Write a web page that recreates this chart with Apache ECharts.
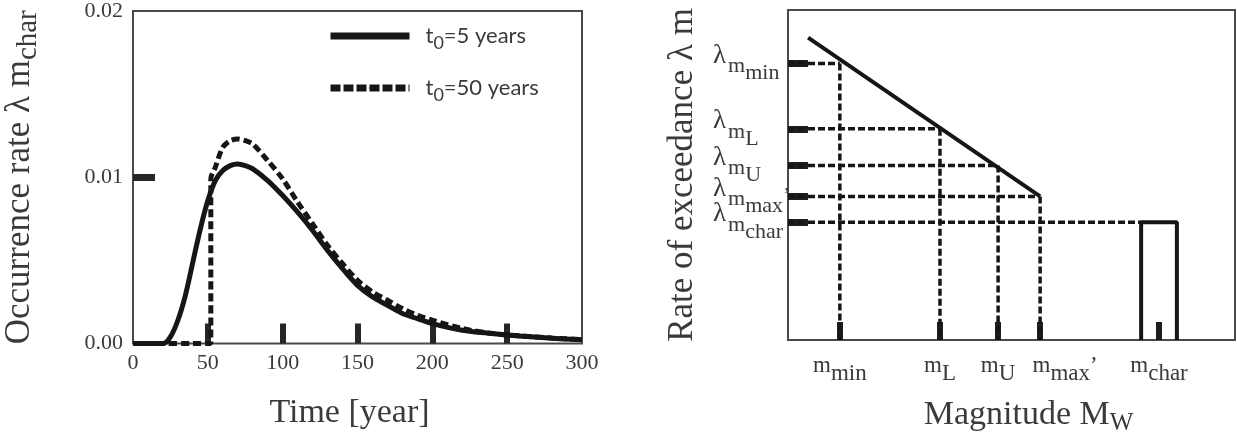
<!DOCTYPE html>
<html>
<head>
<meta charset="utf-8">
<script src="https://cdn.jsdelivr.net/npm/echarts@6/dist/echarts.min.js"></script>
<style>
  html, body { margin: 0; padding: 0; background: #fff; }
  #chart { width: 1237px; height: 441px; }
</style>
</head>
<body>
<div id="chart"></div>
<script>
// left panel: occurrence rate of the characteristic event vs time
const years = [0, 10, 20, 25, 30, 35, 40, 45, 50, 55, 60, 65, 70, 75, 80, 90, 100, 110, 120, 130, 140, 150, 160, 170, 180, 190, 200, 220, 240, 260, 280, 300];
const rateT5 = [0, 0, 0, 0.0004, 0.0014, 0.0029, 0.0049, 0.0069, 0.0086, 0.0098, 0.0104, 0.0107, 0.0108, 0.0107, 0.0105, 0.0098, 0.0089, 0.0079, 0.0068, 0.0056, 0.0045, 0.0035, 0.0028, 0.0023, 0.0018, 0.0015, 0.0012, 0.0008, 0.0006, 0.00043, 0.00032, 0.00022];
const yearsT50 = [0, 20, 40, 52, 52, 55, 60, 65, 70, 75, 80, 90, 100, 110, 120, 130, 140, 150, 160, 170, 180, 190, 200, 220, 240, 260, 280, 300];
const rateT50 = [0, 0, 0, 0, 0.0099, 0.0106, 0.0118, 0.0122, 0.0123, 0.0122, 0.0120, 0.0110, 0.0099, 0.0085, 0.0072, 0.0059, 0.0048, 0.0038, 0.0031, 0.0026, 0.0021, 0.0017, 0.0014, 0.0009, 0.0006, 0.00045, 0.00033, 0.00023];
const timeTicks = [50, 100, 150, 200, 250];
const rateTicks = [0, 0.01, 0.02];

// right panel: schematic exceedance rate vs magnitude (axis units 0..100)
const magNames = ['min', 'L', 'U', 'max', 'char'];
const magPos = [11.6, 34.0, 47.0, 56.4, 83.0];
const lambdaPos = [83.8, 64.0, 52.9, 43.5, 35.7];
const grLine = [[4.5, 91.6], [56.4, 43.5]];
const charBox = [79.0, 87.0];

const serif = 'Liberation Serif';
const ink = '#161616';
const gray = '#3a3a3a';

const chart = echarts.init(document.getElementById('chart'));

const guideStyle = { color: ink, width: 3.5, type: [7, 3], cap: 'butt' };

function guide(points) {
  return {
    type: 'line', xAxisIndex: 1, yAxisIndex: 1, symbol: 'none', silent: true,
    data: points, lineStyle: guideStyle, z: 2
  };
}

const guides = [];
for (let i = 0; i < 4; i++) {
  guides.push(guide([[0, lambdaPos[i]], [magPos[i], lambdaPos[i]]]));
  guides.push(guide([[magPos[i], lambdaPos[i]], [magPos[i], 0]]));
}
guides.push(guide([[0, lambdaPos[4]], [charBox[0], lambdaPos[4]]]));

const ascending = arr => arr.slice().sort((a, b) => a - b);

function nearest(arr, v) {
  let best = 0;
  arr.forEach((p, i) => { if (Math.abs(p - v) < Math.abs(arr[best] - v)) best = i; });
  return Math.abs(arr[best] - v) < 0.5 ? best : -1;
}

function magLabel(v) {
  const i = nearest(magPos, v);
  if (i < 0) return '';
  if (magNames[i] === 'max') return '{pad|}{m|m}{s|max}{m|’}';
  return '{m|m}{s|' + magNames[i] + '}';
}

function lambdaLabel(v) {
  const i = nearest(lambdaPos, v);
  if (i < 0) return '';
  const tail = magNames[i] === 'max' ? '{q|’}' : '';
  return '{l|λ}{m|m}{s|' + magNames[i] + '}' + tail;
}

// the λ labels sit close together, so they are split over two overlaid axes
// (otherwise the library drops one of the neighbouring labels)
function lambdaAxis(values, withName) {
  const axis = {
    gridIndex: 1, type: 'value', min: 0, max: 100, position: 'left', offset: 0,
    axisLine: { show: false }, splitLine: { show: false },
    axisTick: { inside: true, length: 20, customValues: ascending(values), lineStyle: { color: '#1e1e1e', width: 7 } },
    axisLabel: {
      customValues: ascending(values), formatter: lambdaLabel, margin: 75, align: 'left',
      showMinLabel: true, showMaxLabel: true, hideOverlap: false,
      rich: {
        l: { fontFamily: serif, fontSize: 27, color: gray, padding: [0, 0, 16, 0] },
        m: { fontFamily: serif, fontSize: 22, color: gray, padding: [6, 0, 0, 2] },
        s: { fontFamily: serif, fontSize: 22, color: gray, padding: [20, 0, 0, 0] },
        q: { fontFamily: serif, fontSize: 22, color: gray }
      }
    }
  };
  if (withName) {
    axis.name = 'Rate of exceedance λ m';
    axis.nameLocation = 'middle';
    axis.nameGap = 88;
    axis.nameTextStyle = { fontFamily: serif, fontSize: 35, color: gray };
  }
  return axis;
}

chart.setOption({
  animation: false,
  grid: [
    { left: 133, top: 9, width: 449, bottom: 97.5, show: true, borderColor: '#4a4a4a', borderWidth: 2 },
    { left: 788, top: 10, width: 447, bottom: 98, show: true, borderColor: '#4a4a4a', borderWidth: 2 }
  ],
  legend: {
    data: [
      { name: 't5', lineStyle: { width: 7 } },
      { name: 't50', lineStyle: { width: 7, type: [10, 3] } }
    ],
    orient: 'vertical',
    left: 327,
    top: 25,
    padding: 0,
    itemWidth: 79,
    itemHeight: 2,
    itemGap: 25,
    formatter: function (name) {
      return name === 't5' ? 't{s|0}=5 years' : 't{s|0}=50 years';
    },
    textStyle: {
      fontFamily: 'Lato', fontSize: 22, color: gray, padding: [0, 0, 0, 11],
      rich: { s: { fontFamily: 'Lato', fontSize: 18, color: gray, padding: [14, 0, 0, 0] } }
    }
  },
  xAxis: [
    {
      gridIndex: 0, type: 'value', min: 0, max: 300, interval: 50,
      axisLine: { show: false }, splitLine: { show: false },
      axisTick: { inside: true, length: 20, customValues: timeTicks, lineStyle: { color: '#262626', width: 6 } },
      axisLabel: { fontFamily: serif, fontSize: 22, color: gray, margin: 9, showMinLabel: true, showMaxLabel: true },
      name: 'Time [year]', nameLocation: 'middle', nameGap: 53,
      nameTextStyle: { fontFamily: serif, fontSize: 34, color: gray, padding: [0, 16, 0, 0] }
    },
    {
      gridIndex: 1, type: 'value', min: 0, max: 100,
      axisLine: { show: false }, splitLine: { show: false },
      axisTick: { inside: true, length: 18, customValues: ascending(magPos), lineStyle: { color: '#1e1e1e', width: 6 } },
      axisLabel: {
        customValues: ascending(magPos), formatter: magLabel, margin: 6,
        showMinLabel: true, showMaxLabel: true, hideOverlap: false,
        rich: {
          m: { fontFamily: serif, fontSize: 23, color: gray },
          s: { fontFamily: serif, fontSize: 23, color: gray, padding: [16, 0, 0, 0] },
          pad: { width: 50 }
        }
      },
      name: '{a|Magnitude M}{s|W}', nameLocation: 'middle', nameGap: 55,
      nameTextStyle: {
        padding: [0, 0, 0, 34],
        rich: {
          a: { fontFamily: serif, fontSize: 34, color: gray },
          s: { fontFamily: serif, fontSize: 25, color: gray, padding: [16, 0, 0, 0] }
        }
      }
    }
  ],
  yAxis: [
    {
      gridIndex: 0, type: 'value', min: 0, max: 0.02,
      axisLine: { show: false }, splitLine: { show: false },
      axisTick: { inside: true, length: 22, customValues: [0.01], lineStyle: { color: '#262626', width: 7 } },
      axisLabel: {
        customValues: rateTicks, formatter: v => v.toFixed(2),
        fontFamily: serif, fontSize: 22, color: gray, margin: 10,
        showMinLabel: true, showMaxLabel: true
      },
      name: '{a|Occurrence rate λ m}{s|char}', nameLocation: 'middle', nameGap: 90,
      nameTextStyle: {
        rich: {
          a: { fontFamily: serif, fontSize: 35, color: gray },
          s: { fontFamily: serif, fontSize: 29, color: gray, padding: [18, 0, 0, 0] }
        }
      }
    },
    lambdaAxis([lambdaPos[0], lambdaPos[2], lambdaPos[4]], true),
    lambdaAxis([lambdaPos[1], lambdaPos[3]], false)
  ],
  series: [
    {
      name: 't5', type: 'line', xAxisIndex: 0, yAxisIndex: 0,
      data: years.map((t, i) => [t, rateT5[i]]),
      smooth: 0.3, symbol: 'none',
      lineStyle: { color: ink, width: 5 }, itemStyle: { color: ink }, z: 3
    },
    {
      name: 't50', type: 'line', xAxisIndex: 0, yAxisIndex: 0,
      data: yearsT50.map((t, i) => [t, rateT50[i]]),
      smooth: 0.3, symbol: 'none',
      lineStyle: { color: ink, width: 5, type: [8, 4], cap: 'butt' }, itemStyle: { color: ink }, z: 4
    },
    {
      type: 'line', xAxisIndex: 1, yAxisIndex: 1, symbol: 'none', silent: true,
      data: grLine, lineStyle: { color: ink, width: 4 }, z: 3
    },
    {
      type: 'line', xAxisIndex: 1, yAxisIndex: 1, symbol: 'none', silent: true,
      data: [[charBox[0], 0], [charBox[0], lambdaPos[4]], [charBox[1], lambdaPos[4]], [charBox[1], 0]],
      lineStyle: { color: ink, width: 4 }, z: 3
    }
  ].concat(guides)
});
</script>
</body>
</html>
